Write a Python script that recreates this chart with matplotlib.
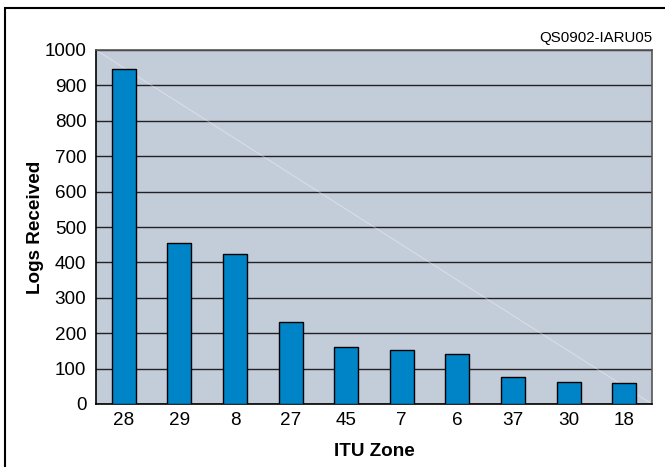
import matplotlib
matplotlib.use("Agg")
import matplotlib.pyplot as plt
from matplotlib.patches import Rectangle

plt.rcParams["font.family"] = ["Liberation Sans", "DejaVu Sans"]

# ITU zones and logs received
zones = ["28", "29", "8", "27", "45", "7", "6", "37", "30", "18"]
logs = [945, 455, 425, 232, 162, 152, 140, 75, 63, 60]
yticks = list(range(0, 1001, 100))

fig = plt.figure(figsize=(6.65, 4.67), dpi=100)
ax = fig.add_axes([96 / 665, 1 - 404 / 467, (652 - 96) / 665, (404 - 50) / 467])

ax.set_facecolor("#C3CCD9")
x = list(range(len(zones)))
ax.bar(x, logs, width=0.43, color="#0084C8", edgecolor="black", linewidth=1.0, zorder=3)

# faint diagonal sheen across the plot area
ax.plot([-0.5, 9.5], [1000, 0], color="white", alpha=0.35, linewidth=0.8, zorder=2)

ax.set_xlim(-0.5, 9.5)
ax.set_ylim(0, 1000)
ax.set_yticks(yticks)
ax.set_xticks(x)
ax.set_xticklabels(zones)
ax.tick_params(axis="both", length=0, labelsize=13.6, pad=7)
ax.tick_params(axis="x", pad=6)
ax.yaxis.grid(True, color="#222222", linewidth=1.0, zorder=1)
ax.set_axisbelow(True)
for side in ["left", "bottom"]:
    ax.spines[side].set_color("black")
    ax.spines[side].set_linewidth(1.2)
for side in ["top", "right"]:
    ax.spines[side].set_color("#555555")
    ax.spines[side].set_linewidth(1.2)

ax.set_ylabel("Logs Received", fontsize=13.6, fontweight="bold", labelpad=0.5)
ax.set_xlabel("ITU Zone", fontsize=13.6, fontweight="bold", labelpad=10)

fig.text(652 / 665, 1 - 38 / 467, "QS0902-IARU05", ha="right", va="center", fontsize=10.8)

# outer frame
fig.patches.append(Rectangle((5 / 665, -0.05), 1.05, 1 - 8 / 467 + 0.05,
                             transform=fig.transFigure, fill=False,
                             edgecolor="black", linewidth=1.5))

fig.savefig("out.png", dpi=100)
